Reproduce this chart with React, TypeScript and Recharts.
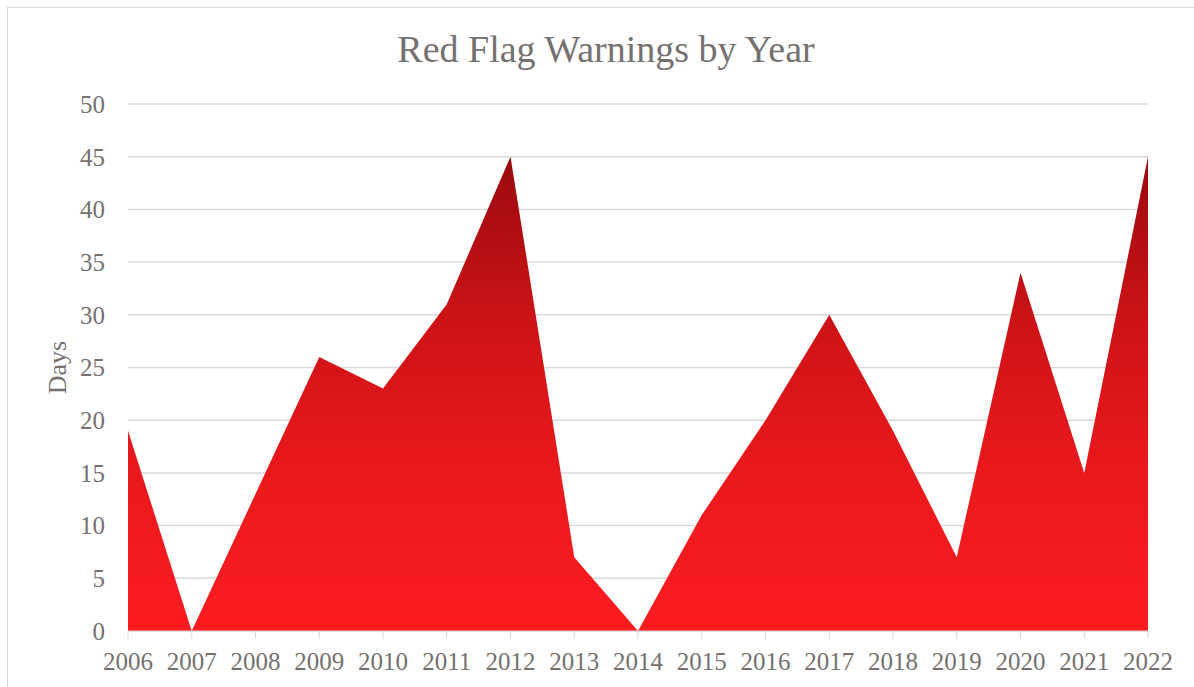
import * as React from 'react';
import { AreaChart, Area, CartesianGrid, XAxis, YAxis, Label } from 'recharts';

const years = ['2006', '2007', '2008', '2009', '2010', '2011', '2012', '2013', '2014', '2015', '2016', '2017', '2018', '2019', '2020', '2021', '2022'];
const days = [19, 0, 13, 26, 23, 31, 45, 7, 0, 11, 20, 30, 19, 7, 34, 15, 45];
const yTicks = [0, 5, 10, 15, 20, 25, 30, 35, 40, 45, 50];

const data = years.map((year, i) => ({ year, days: days[i] }));

const FONT = '"Liberation Serif", "Times New Roman", serif';
const TEXT = '#767171';
const GRID = '#d9d9d9';

const App = () => (
  <div style={{ position: 'absolute', left: 0, top: 0, width: 1194, height: 687, overflow: 'hidden', background: '#fff' }}>
    <div
      style={{
        position: 'absolute', left: 7, top: 7, width: 1300, height: 800,
        borderLeft: `1px solid ${GRID}`, borderTop: `1px solid ${GRID}`,
      }}
    />
    <div style={{ position: 'absolute', left: 0, top: 0 }}>
      <AreaChart width={1194} height={687} data={data} margin={{ top: 104, right: 46, left: 0, bottom: 26 }}>
        <defs>
          <linearGradient id="redFill" x1="0" y1="0" x2="0" y2="1">
            <stop offset="0%" stopColor="#9a0a0e" />
            <stop offset="35%" stopColor="#cd1317" />
            <stop offset="65%" stopColor="#e9181c" />
            <stop offset="100%" stopColor="#fd1c20" />
          </linearGradient>
        </defs>
        <CartesianGrid stroke={GRID} strokeWidth={1.5} vertical={false} />
        <XAxis
          dataKey="year"
          interval={0}
          stroke={GRID}
          tickSize={8}
          tickMargin={13}
          tick={{ fill: TEXT, fontSize: 25, fontFamily: FONT }}
          height={30}
        />
        <YAxis
          width={128}
          domain={[0, 50]}
          ticks={yTicks}
          axisLine={false}
          tickLine={false}
          tickMargin={17}
          tick={{ fill: TEXT, fontSize: 25, fontFamily: FONT }}
        >
          <Label
            value="Days"
            angle={-90}
            position="insideLeft"
            offset={57}
            style={{ textAnchor: 'middle', fill: TEXT, fontSize: 26, fontFamily: FONT }}
          />
        </YAxis>
        <Area
          type="linear"
          dataKey="days"
          stroke="none"
          fill="url(#redFill)"
          fillOpacity={1}
          isAnimationActive={false}
        />
        <text x={606} y={62} textAnchor="middle" style={{ fontSize: 38, fontFamily: FONT, fill: TEXT }}>
          Red Flag Warnings by Year
        </text>
      </AreaChart>
    </div>
  </div>
);

export default App;
